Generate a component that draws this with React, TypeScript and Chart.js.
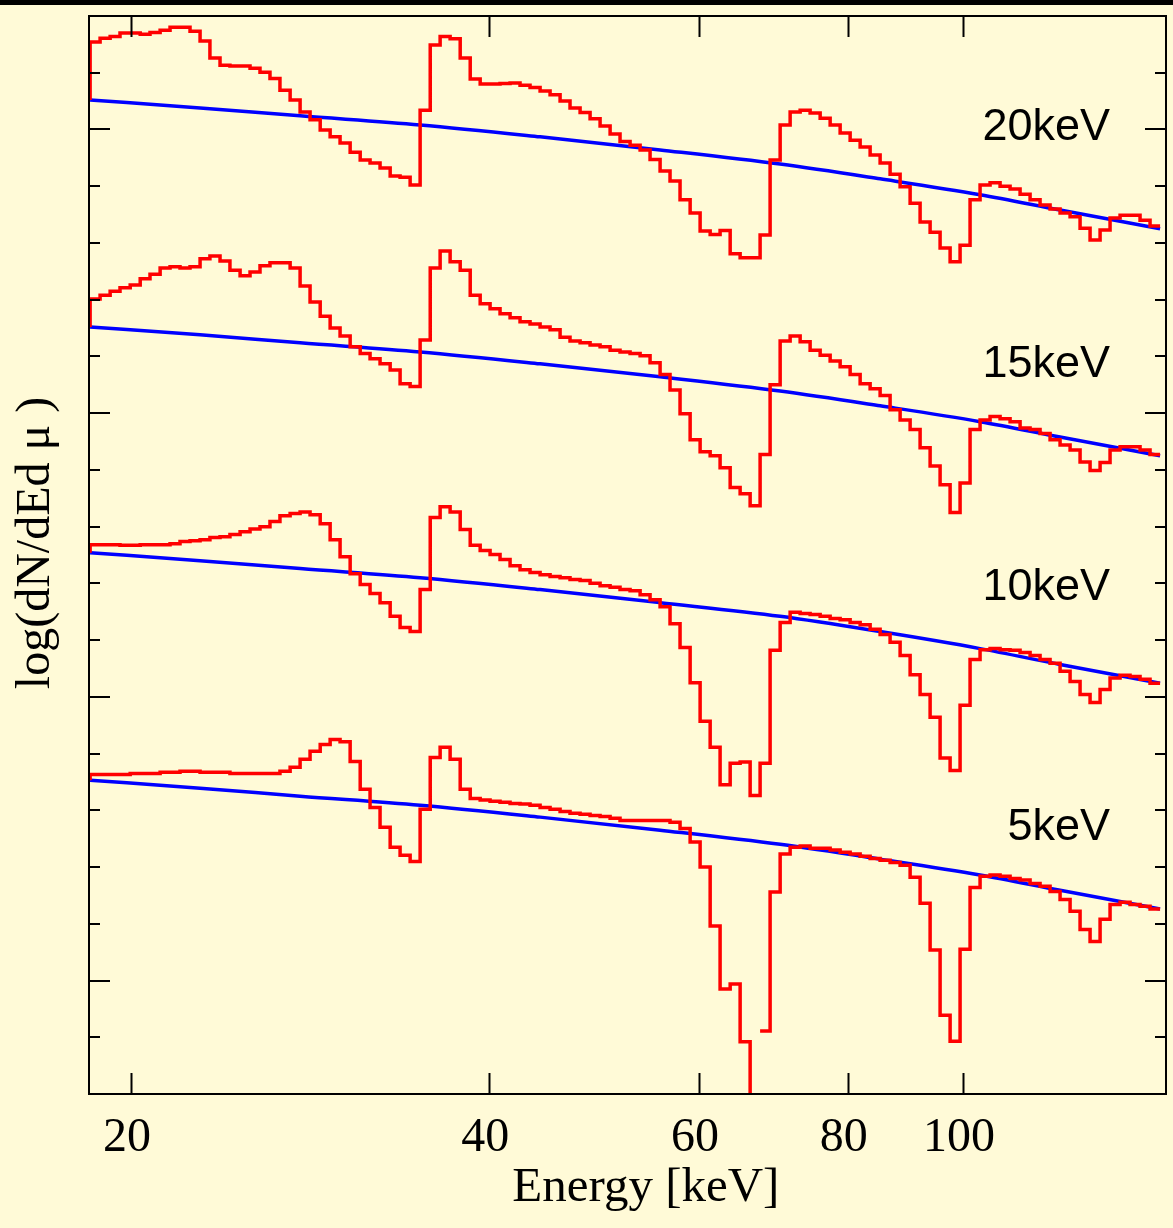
import { useEffect, useRef } from "react";
import { Chart, registerables } from "chart.js";

Chart.register(...registerables);

// Histogram bin edges (keV), shared by all four spectra
const energyEdges = [
  18.48, 18.84, 19.21, 19.58, 19.97, 20.36, 20.75, 21.16, 21.57, 21.99,
  22.42, 22.86, 23.3, 23.76, 24.22, 24.7, 25.18, 25.67, 26.17, 26.68,
  27.21, 27.74, 28.28, 28.84, 29.4, 29.97, 30.56, 31.16, 31.76, 32.38,
  33.02, 33.66, 34.32, 34.99, 35.68, 36.37, 37.08, 37.81, 38.55, 39.3,
  40.06, 40.84, 41.64, 42.45, 43.28, 44.13, 44.99, 45.87, 46.76, 47.68,
  48.61, 49.56, 50.53, 51.51, 52.52, 53.55, 54.59, 55.66, 56.74, 57.85,
  58.99, 60.14, 61.32, 62.51, 63.74, 64.98, 66.25, 67.54, 68.86, 70.21,
  71.58, 72.98, 74.4, 75.86, 77.34, 78.85, 80.39, 81.96, 83.56, 85.19,
  86.85, 88.55, 90.28, 92.04, 93.84, 95.67, 97.54, 99.44, 101.38, 103.36,
  105.38, 107.44, 109.54, 111.68, 113.86, 116.08, 118.35, 120.66, 123.02, 125.42,
  127.87, 130.37, 132.91, 135.51, 138.15, 140.85, 143.6, 146.41,
];

// Red spectra (log dN/dEdmu, arbitrary offset units), one value per bin
const red20keV = [
  18.54, 18.61, 18.64, 18.7, 18.7, 18.68, 18.71, 18.75, 18.8, 18.8,
  18.73, 18.56, 18.26, 18.13, 18.12, 18.12, 18.08, 18.01, 17.9, 17.69,
  17.52, 17.31, 17.17, 16.99, 16.87, 16.76, 16.6, 16.46, 16.41, 16.32,
  16.18, 16.16, 16.02, 17.34, 18.49, 18.64, 18.6, 18.26, 17.89, 17.8,
  17.8, 17.81, 17.82, 17.78, 17.74, 17.68, 17.61, 17.5, 17.38, 17.3,
  17.19, 17.06, 16.92, 16.79, 16.72, 16.64, 16.47, 16.27, 16.09, 15.76,
  15.53, 15.21, 15.15, 15.22, 14.81, 14.74, 14.74, 15.14, 16.46, 17.08,
  17.31, 17.34, 17.29, 17.2, 17.08, 16.94, 16.81, 16.69, 16.55, 16.41,
  16.21, 15.99, 15.7, 15.37, 15.19, 14.91, 14.67, 14.96, 15.76, 16.02,
  16.06, 16.0, 15.95, 15.86, 15.76, 15.67, 15.6, 15.53, 15.46, 15.26,
  15.05, 15.23, 15.44, 15.49, 15.49, 15.4, 15.3,
];
const red15keV = [
  14.01, 14.08, 14.15, 14.21, 14.26, 14.37, 14.45, 14.56, 14.58, 14.56,
  14.58, 14.72, 14.77, 14.68, 14.52, 14.42, 14.49, 14.6, 14.65, 14.65,
  14.56, 14.24, 13.96, 13.71, 13.5, 13.36, 13.17, 13.05, 12.96, 12.87,
  12.76, 12.52, 12.47, 13.29, 14.56, 14.86, 14.67, 14.52, 14.08, 13.93,
  13.84, 13.75, 13.68, 13.61, 13.57, 13.52, 13.47, 13.34, 13.27, 13.24,
  13.2, 13.17, 13.11, 13.08, 13.05, 13.01, 12.89, 12.68, 12.41, 11.99,
  11.53, 11.32, 11.25, 11.04, 10.69, 10.58, 10.37, 11.27, 12.5, 13.27,
  13.36, 13.26, 13.11, 13.02, 12.92, 12.82, 12.68, 12.52, 12.43, 12.31,
  12.06, 11.88, 11.71, 11.39, 11.07, 10.74, 10.25, 10.77, 11.71, 11.88,
  11.94, 11.9, 11.85, 11.74, 11.71, 11.64, 11.53, 11.44, 11.35, 11.14,
  10.99, 11.13, 11.35, 11.41, 11.41, 11.35, 11.27,
];
const red10keV = [
  9.68, 9.68, 9.68, 9.67, 9.67, 9.68, 9.68, 9.68, 9.7, 9.74,
  9.75, 9.77, 9.81, 9.82, 9.86, 9.91, 9.96, 10.0, 10.09, 10.19,
  10.23, 10.26, 10.21, 10.05, 9.77, 9.47, 9.17, 8.98, 8.82, 8.66,
  8.42, 8.22, 8.15, 8.89, 10.16, 10.35, 10.26, 9.95, 9.67, 9.58,
  9.51, 9.42, 9.31, 9.24, 9.19, 9.15, 9.12, 9.1, 9.07, 9.05,
  9.0, 8.96, 8.93, 8.89, 8.87, 8.8, 8.71, 8.59, 8.29, 7.87,
  7.25, 6.57, 6.11, 5.45, 5.83, 5.85, 5.26, 5.83, 7.82, 8.31,
  8.49, 8.47, 8.45, 8.42, 8.38, 8.36, 8.31, 8.27, 8.19, 8.1,
  7.96, 7.73, 7.39, 7.04, 6.64, 5.92, 5.7, 6.85, 7.66, 7.83,
  7.85, 7.83, 7.82, 7.78, 7.73, 7.66, 7.59, 7.45, 7.27, 7.04,
  6.9, 7.13, 7.33, 7.38, 7.36, 7.31, 7.24,
];
const red5keV = [
  5.63, 5.63, 5.63, 5.63, 5.65, 5.65, 5.65, 5.67, 5.67, 5.69,
  5.69, 5.67, 5.67, 5.67, 5.65, 5.65, 5.65, 5.65, 5.65, 5.69,
  5.76, 5.9, 6.04, 6.16, 6.25, 6.21, 5.86, 5.37, 5.05, 4.7,
  4.35, 4.21, 4.1, 5.02, 5.93, 6.11, 5.9, 5.37, 5.21, 5.18,
  5.16, 5.14, 5.12, 5.11, 5.09, 5.05, 5.02, 4.98, 4.95, 4.93,
  4.91, 4.89, 4.86, 4.82, 4.82, 4.82, 4.82, 4.82, 4.79, 4.68,
  4.44, 4.0, 2.96, 1.85, 1.94, 0.92, -2, 1.11, 3.56, 4.23,
  4.35, 4.37, 4.33, 4.33, 4.3, 4.26, 4.23, 4.19, 4.15, 4.12,
  4.08, 4.03, 3.82, 3.36, 2.54, 1.39, 0.93, 2.55, 3.64, 3.84,
  3.86, 3.84, 3.8, 3.77, 3.71, 3.66, 3.57, 3.43, 3.22, 2.9,
  2.69, 3.08, 3.34, 3.38, 3.34, 3.31, 3.26,
];

// Blue reference curves
const blueEnergies = [18.48, 22.86, 27.74, 34.99, 44.13, 55.66, 70.21, 85.19, 103.36, 120.66, 146.41];
const blue20keV = [17.52, 17.38, 17.24, 17.08, 16.87, 16.64, 16.39, 16.13, 15.85, 15.58, 15.25];
const blue15keV = [13.52, 13.38, 13.24, 13.08, 12.87, 12.64, 12.39, 12.13, 11.85, 11.58, 11.25];
const blue10keV = [9.54, 9.4, 9.26, 9.1, 8.89, 8.66, 8.42, 8.15, 7.85, 7.57, 7.24];
const blue5keV = [5.53, 5.39, 5.25, 5.09, 4.88, 4.65, 4.4, 4.14, 3.86, 3.59, 3.26];

const seriesLabels = ["20keV", "15keV", "10keV", "5keV"];
const xTickValues = [20, 40, 60, 80, 100];
const yMajorTicks = [2, 7, 12, 17];

const Y_MIN = 0;
const Y_MAX = 19;
const X_MIN = 18.44;
const X_MAX = 148.1;

// annotation anchors (data coords) for the series labels
const labelAnchorX = 132.9;
const labelAnchorY = [17.03, 12.85, 8.93, 4.7];

const SERIF = '"Liberation Serif", "Times New Roman", Times, serif';
const SANS = '"Liberation Sans", Arial, Helvetica, sans-serif';
const CREAM = "#FFFAD7";

function histPoints(start: number, vals: number[]) {
  const pts: { x: number; y: number | null }[] = [{ x: energyEdges[0], y: start }];
  vals.forEach((v, i) => {
    pts.push({ x: energyEdges[i], y: v });
    if (v < Y_MIN) pts.push({ x: Math.sqrt(energyEdges[i] * energyEdges[i + 1]), y: null });
  });
  pts.push({ x: energyEdges[energyEdges.length - 1], y: vals[vals.length - 1] });
  return pts;
}

function curvePoints(vals: number[]) {
  return vals.map((v, i) => ({ x: blueEnergies[i], y: v }));
}

const framePlugin = {
  id: "frameTicks",
  afterDraw(chart: any) {
    const { ctx, chartArea, scales } = chart;
    const { left, right, top, bottom } = chartArea;
    const x = scales.x;
    const y = scales.y;
    ctx.save();
    ctx.strokeStyle = "#000";
    ctx.lineWidth = 2;
    ctx.strokeRect(left, top, right - left, bottom - top);
    const line = (x1: number, y1: number, x2: number, y2: number) => {
      ctx.beginPath();
      ctx.moveTo(x1, y1);
      ctx.lineTo(x2, y2);
      ctx.stroke();
    };
    xTickValues.forEach((v) => {
      const px = Math.round(x.getPixelForValue(v)) + 0.5;
      line(px, bottom, px, bottom - 21);
      line(px, top, px, top + 21);
    });
    y.ticks.forEach((t: any) => {
      const py = Math.round(y.getPixelForValue(t.value));
      const len = yMajorTicks.includes(t.value) ? 21 : 11;
      line(left, py, left + len, py);
      line(right, py, right - len, py);
    });
    ctx.fillStyle = "#000";
    ctx.font = `45px ${SANS}`;
    ctx.textAlign = "right";
    ctx.textBaseline = "middle";
    seriesLabels.forEach((s, i) => {
      ctx.fillText(s, x.getPixelForValue(labelAnchorX), y.getPixelForValue(labelAnchorY[i]));
    });
    ctx.restore();
  },
};

export default function App() {
  const ref = useRef<HTMLCanvasElement | null>(null);

  useEffect(() => {
    if (!ref.current) return;
    const reds = [red20keV, red15keV, red10keV, red5keV];
    const blues = [blue20keV, blue15keV, blue10keV, blue5keV];
    const datasets: any[] = [];
    reds.forEach((r, i) => {
      datasets.push({
        label: seriesLabels[i],
        data: histPoints(blues[i][0], r),
        borderColor: "#FF0000",
        borderWidth: 3.5,
        stepped: "before",
        pointRadius: 0,
        fill: false,
      });
    });
    blues.forEach((b, i) => {
      datasets.push({
        label: seriesLabels[i] + " ref",
        data: curvePoints(b),
        borderColor: "#0000FF",
        borderWidth: 3.5,
        cubicInterpolationMode: "monotone",
        pointRadius: 0,
        fill: false,
      });
    });

    const chart = new Chart(ref.current, {
      type: "line",
      data: { datasets },
      options: {
        animation: false,
        responsive: false,
        events: [],
        layout: { padding: { left: 0, right: 7, top: 16, bottom: 15 } },
        plugins: { legend: { display: false }, tooltip: { enabled: false } },
        scales: {
          x: {
            type: "logarithmic",
            min: X_MIN,
            max: X_MAX,
            afterBuildTicks: (s: any) => {
              s.ticks = xTickValues.map((v) => ({ value: v }));
            },
            ticks: {
              autoSkip: false,
              maxRotation: 0,
              minRotation: 0,
              padding: 20,
              labelOffset: -4,
              color: "#000",
              font: { family: SERIF, size: 48, lineHeight: 1 },
              callback: (v: any) => String(v),
            },
            grid: { display: false, drawTicks: false },
            border: { display: false },
            title: {
              display: true,
              text: "   Energy [keV]",
              color: "#000",
              font: { family: SERIF, size: 49, lineHeight: 1 },
              padding: { top: -18, bottom: 0 },
            },
          },
          y: {
            type: "linear",
            min: Y_MIN,
            max: Y_MAX,
            ticks: { display: false, stepSize: 1 },
            grid: { display: false, drawTicks: false },
            border: { display: false },
            title: {
              display: true,
              text: "  log(dN/dEd μ )",
              color: "#000",
              font: { family: SERIF, size: 48, lineHeight: 1 },
              padding: { top: 12, bottom: 29 },
            },
          },
        },
      } as any,
      plugins: [framePlugin],
    });
    return () => chart.destroy();
  }, []);

  return (
    <div
      style={{
        position: "absolute",
        left: 0,
        top: 0,
        width: 1173,
        height: 1228,
        background: CREAM,
        overflow: "hidden",
      }}
    >
      <canvas ref={ref} width={1173} height={1228} style={{ display: "block" }} />
      <div
        style={{ position: "absolute", left: 0, top: 0, width: 1173, height: 5, background: "#000" }}
      />
    </div>
  );
}
